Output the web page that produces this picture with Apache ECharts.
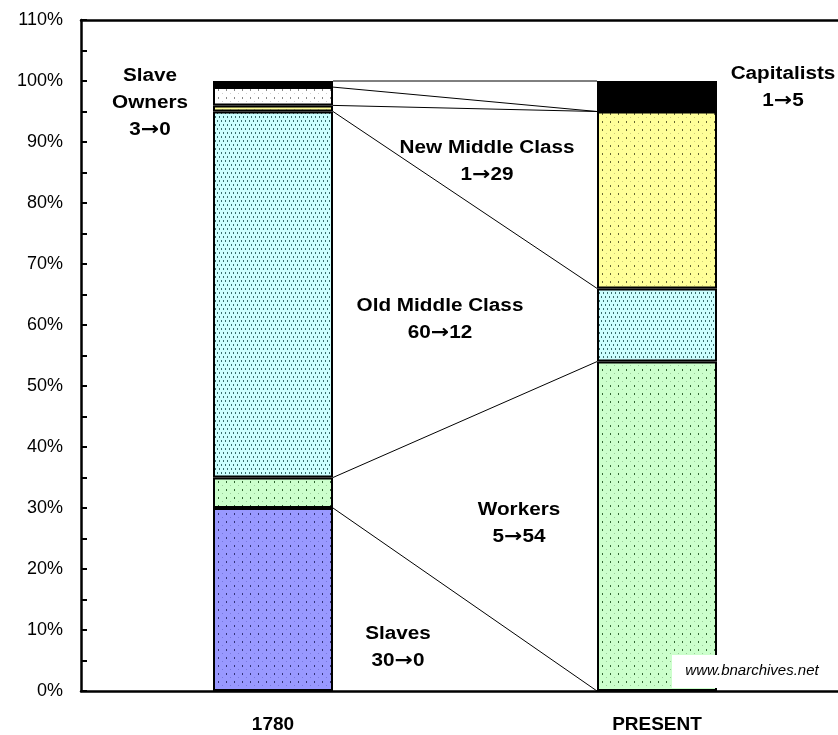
<!DOCTYPE html>
<html>
<head>
<meta charset="utf-8">
<script src="https://cdn.jsdelivr.net/npm/echarts@6/dist/echarts.min.js"></script>
<style>
  html, body { margin: 0; padding: 0; background: #fff; overflow: hidden; }
  /* axis runs a bit past the right edge in the original, so the box is wider than the window */
  #chart { width: 849px; height: 735px; }
</style>
</head>
<body>
<div id="chart"></div>
<script>
// data, bottom of the stack first
const categories = ['1780', 'PRESENT']
const seriesNames = ['Slaves', 'Workers', 'Old Middle Class', 'New Middle Class', 'Slave Owners', 'Capitalists']
const slaves = [30, 0]
const workers = [5, 54]
const oldMiddle = [60, 12]
const newMiddle = [1, 29]
const slaveOwners = [3, 0]
const capitalists = [1, 5]
const yTicks = [0, 10, 20, 30, 40, 50, 60, 70, 80, 90, 100, 110]

const BAR_W = 120

// dotted fills like the excel patterns
function dots(bg, dark, light, w, h, dense) {
  const c = document.createElement('canvas')
  c.width = w
  c.height = h
  const ctx = c.getContext('2d')
  ctx.fillStyle = bg
  ctx.fillRect(0, 0, w, h)
  ctx.fillStyle = dark
  if (dense) {
    ctx.fillRect(1, 0, 1, 2)
    ctx.fillRect(3, 4, 1, 2)
  } else {
    ctx.fillRect(2, 1, 1, 2)
    if (light) {
      ctx.fillStyle = light
      ctx.fillRect(6, 5, 1, 1)
    }
  }
  return { image: c, repeat: 'repeat' }
}

const fills = [
  dots('#9999ff', '#333377', '#7777dd', 8, 8),
  dots('#ccffcc', '#336633', '#99cc99', 8, 8),
  dots('#ccffff', '#3a6e6e', null, 4, 8, true),
  dots('#ffff99', '#666633', '#cccc77', 8, 8),
  dots('#ffffff', '#888888', '#cccccc', 8, 8),
  '#000000'
]

const values = [slaves, workers, oldMiddle, newMiddle, slaveOwners, capitalists]

// tops of every segment, used for the series lines
const tops = []
let c0 = 0, c1 = 0
values.forEach((v, i) => {
  c0 += v[0]
  c1 += v[1]
  tops.push([i, c0, c1])
})

const chart = echarts.init(document.getElementById('chart'))

const bold = { fontFamily: 'Liberation Sans', fontWeight: 'bold', fontSize: 18, fill: '#000', align: 'center', verticalAlign: 'middle', lineHeight: 27 }
const richArrow = {
  ar: { fontFamily: 'DejaVu Sans', fontWeight: 'bold', fontSize: 19, fill: '#000', lineHeight: 27 }
}
function note(text, x, y) {
  return {
    type: 'text', x: x, y: y, scaleX: 1.15, z: 50,
    style: Object.assign({ text: text.replace('->', '{ar|\u2192}'), rich: richArrow }, bold)
  }
}

const barSeries = values.map((v, i) => ({
  name: seriesNames[i],
  type: 'bar',
  stack: 'total',
  barWidth: BAR_W,
  data: v,
  itemStyle: {
    color: fills[i],
    borderColor: '#000',
    borderWidth: 2
  },
  emphasis: { disabled: true },
  z: 3
}))

chart.setOption({
  animation: false,
  textStyle: { fontFamily: 'Liberation Sans' },
  grid: { left: 81, top: 20, right: 0, bottom: 44, containLabel: false },
  xAxis: [{
    type: 'category',
    data: categories,
    axisLine: { lineStyle: { color: '#000', width: 2.5 } },
    axisTick: { show: false },
    axisLabel: { fontSize: 19, fontWeight: 'bold', color: '#000', margin: 24 }
  }, {
    type: 'category',
    position: 'top',
    data: categories,
    axisLine: { onZero: false, lineStyle: { color: '#000', width: 2.5 } },
    axisTick: { show: false },
    axisLabel: { show: false }
  }],
  yAxis: {
    type: 'value',
    min: yTicks[0],
    max: yTicks[yTicks.length - 1],
    interval: 10,
    axisLine: { show: true, lineStyle: { color: '#000', width: 2.5 } },
    axisTick: { show: true, inside: true, length: 6, lineStyle: { color: '#000', width: 2 } },
    minorTick: { show: true, splitNumber: 2, length: 6, lineStyle: { color: '#000', width: 2 } },
    splitLine: { show: false },
    axisLabel: { formatter: '{value}%', fontSize: 18, color: '#000', margin: 18 }
  },
  series: barSeries.concat([{
    type: 'custom',
    data: tops,
    encode: { x: 0, y: 1 },
    z: 2,
    silent: true,
    renderItem: function (params, api) {
      const a = api.coord([0, api.value(1)])
      const b = api.coord([1, api.value(2)])
      return {
        type: 'line',
        shape: { x1: a[0] + BAR_W / 2, y1: a[1], x2: b[0] - BAR_W / 2, y2: b[1] },
        style: { stroke: '#000', lineWidth: 1 }
      }
    }
  }]),
  graphic: [
    note('Slave\nOwners\n3->0', 150, 103),
    note('New Middle Class\n1->29', 487, 162),
    note('Capitalists\n1->5', 783, 88),
    note('Old Middle Class\n60->12', 440, 320),
    note('Workers\n5->54', 519, 524),
    note('Slaves\n30->0', 398, 648),
    {
      type: 'rect',
      shape: { x: 672, y: 655, width: 180, height: 33 },
      style: { fill: '#fff' },
      z: 40
    },
    {
      type: 'text',
      x: 752, y: 671,
      style: { text: 'www.bnarchives.net', fontFamily: 'Liberation Sans', fontStyle: 'italic', fontSize: 15, fill: '#000', align: 'center', verticalAlign: 'middle' },
      z: 50
    }
  ]
})
</script>
</body>
</html>
